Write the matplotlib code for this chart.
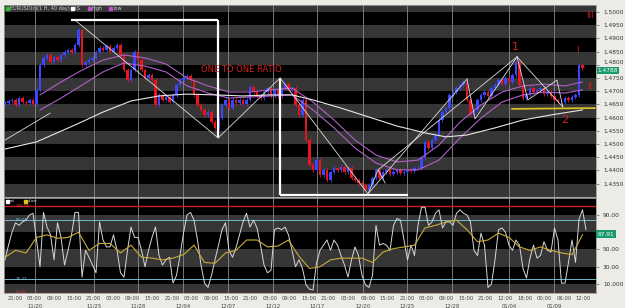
import matplotlib
matplotlib.use('Agg')
import matplotlib.pyplot as plt
import matplotlib.transforms as mtransforms
from matplotlib.patches import Rectangle

# ---------------- data ----------------
closes = [
    1.4655, 1.4663, 1.4667, 1.4648, 1.4674, 1.4659, 1.4655, 1.4667, 1.4651, 1.4705,
    1.4799, 1.4826, 1.4837, 1.4811, 1.4830, 1.4818, 1.4837, 1.4848, 1.4856, 1.4848,
    1.4875, 1.4932, 1.4799, 1.4811, 1.4818, 1.4826, 1.4848, 1.4864, 1.4856, 1.4871,
    1.4848, 1.4864, 1.4875, 1.4837, 1.4780, 1.4742, 1.4780, 1.4848, 1.4818, 1.4780,
    1.4750, 1.4761, 1.4742, 1.4648, 1.4686, 1.4667, 1.4678, 1.4659, 1.4686, 1.4723,
    1.4742, 1.4750, 1.4758, 1.4742, 1.4686, 1.4648, 1.4629, 1.4610, 1.4621, 1.4583,
    1.4561, 1.4598, 1.4648, 1.4667, 1.4636, 1.4667, 1.4655, 1.4667, 1.4651, 1.4667,
    1.4716, 1.4697, 1.4686, 1.4674, 1.4697, 1.4712, 1.4682, 1.4705, 1.4682, 1.4712,
    1.4727, 1.4705, 1.4712, 1.4648, 1.4610, 1.4667, 1.4515, 1.4420, 1.4402, 1.4439,
    1.4383, 1.4402, 1.4364, 1.4394, 1.4409, 1.4402, 1.4413, 1.4394, 1.4409, 1.4371,
    1.4364, 1.4352, 1.4345, 1.4326, 1.4345, 1.4371, 1.4402, 1.4371, 1.4394, 1.4402,
    1.4386, 1.4394, 1.4402, 1.4390, 1.4394, 1.4402, 1.4398, 1.4409, 1.4409, 1.4447,
    1.4508, 1.4485, 1.4515, 1.4534, 1.4591, 1.4621, 1.4636, 1.4686, 1.4697, 1.4712,
    1.4723, 1.4735, 1.4667, 1.4610, 1.4629, 1.4667, 1.4686, 1.4697, 1.4682, 1.4712,
    1.4723, 1.4742, 1.4727, 1.4750, 1.4735, 1.4761, 1.4811, 1.4723, 1.4674, 1.4686,
    1.4712, 1.4697, 1.4705, 1.4712, 1.4689, 1.4697, 1.4682, 1.4667, 1.4659, 1.4659,
    1.4674, 1.4667, 1.4678, 1.4686, 1.4799, 1.4788]
first_open = 1.4651
wick = 0.0007

ma_bars = [10, 16, 22, 28, 34, 40, 46, 52, 58, 64, 70, 76, 82, 88, 94, 100, 106,
           112, 118, 124, 130, 136, 142, 148, 154, 160, 165]
ma_high = [1.4686, 1.4735, 1.4780, 1.4818, 1.4837, 1.4826, 1.4803, 1.4750, 1.4720,
           1.4697, 1.4697, 1.4705, 1.4712, 1.4659, 1.4591, 1.4515, 1.4458, 1.4432,
           1.4439, 1.4496, 1.4583, 1.4648, 1.4697, 1.4720, 1.4727, 1.4720, 1.4735]
ma_low = [1.4629, 1.4674, 1.4723, 1.4773, 1.4807, 1.4795, 1.4773, 1.4720, 1.4693,
          1.4674, 1.4678, 1.4682, 1.4686, 1.4629, 1.4561, 1.4485, 1.4428, 1.4402,
          1.4402, 1.4439, 1.4523, 1.4598, 1.4659, 1.4686, 1.4697, 1.4693, 1.4705]

ls_bars = [0, 9, 20, 28, 36, 44, 52, 60, 68, 76, 82, 88, 96, 104, 112, 120, 126,
           132, 140, 148, 156, 165]
ls_vals = [1.4481, 1.4508, 1.4572, 1.4621, 1.4663, 1.4682, 1.4689, 1.4686, 1.4682,
           1.4686, 1.4686, 1.4667, 1.4636, 1.4602, 1.4568, 1.4542, 1.4527, 1.4534,
           1.4561, 1.4591, 1.4610, 1.4629]

rsi_fast = [
    38, 55, 70, 81, 78, 82, 84, 90, 92, 61, 30, 93, 76, 67, 38, 81, 64, 32, 49, 67,
    93, 93, 18, 49, 41, 32, 23, 82, 61, 53, 53, 67, 49, 23, 18, 49, 76, 64, 64, 49,
    30, 49, 64, 76, 43, 32, 38, 41, 11, 20, 43, 69, 90, 93, 84, 61, 32, 11, 6, 20,
    38, 55, 73, 81, 49, 41, 52, 67, 82, 92, 76, 84, 75, 55, 32, 23, 26, 73, 75, 73,
    76, 67, 49, 30, 38, 28, 9, 4, 3, 34, 49, 55, 61, 49, 61, 55, 43, 32, 18, 38,
    53, 43, 20, 9, 6, 20, 78, 55, 57, 55, 49, 78, 86, 84, 61, 38, 55, 43, 78, 99,
    99, 78, 82, 92, 96, 75, 82, 82, 78, 92, 96, 92, 90, 82, 49, 43, 69, 55, 6, 10,
    38, 73, 75, 70, 55, 49, 61, 55, 28, 17, 40, 55, 40, 43, 59, 49, 47, 75, 61, 11,
    11, 35, 61, 35, 85, 96, 73]
rsi_slow_step = 3
rsi_slow = [41, 49, 46, 64, 67, 63, 64, 70, 49, 57, 57, 46, 55, 41, 40, 38, 40, 44,
            55, 35, 34, 46, 49, 61, 61, 53, 54, 61, 42, 28, 30, 38, 40, 40, 40, 35,
            47, 51, 53, 55, 75, 78, 82, 84, 73, 59, 61, 69, 64, 53, 49, 53, 49, 46,
            44, 67]

price_ticks = [1.5000, 1.4950, 1.4900, 1.4850, 1.4800, 1.4750, 1.4700, 1.4650,
               1.4600, 1.4550, 1.4500, 1.4450, 1.4400, 1.4350]
last_price = 1.4788
rsi_ticks = [90, 50, 30, 10]
rsi_tick_labels = ['90.00', '50.00', '30.00', '10.000']
last_rsi = 67.91
rsi_red = [100, 0]
rsi_teal = [84.04, 16.22]

date_pos = [8.57, 25.43, 38.0, 50.86, 63.71, 76.57, 89.14, 102.29, 114.86,
            127.71, 144.0, 156.86]
date_labels = ['11/20', '11/25', '11/28', '12/04', '12/07', '12/12', '12/17',
               '12/20', '12/25', '12/28', '01/04', '01/09']
time_labels = (['21:00', '03:00', '09:00', '15:00'] * 7)[:25] + \
    ['12:00', '18:00', '00:00', '06:00', '12:00']

# user drawings (bar index, price)
thick_lines = [
    ([18.9, 60.9], [1.4970, 1.4970]),
    ([60.9, 60.9], [1.4970, 1.4523]),
    ([78.6, 78.6], [1.4750, 1.4307]),
    ([78.6, 115.1], [1.4307, 1.4307]),
]
thin_lines = [
    ([20.3, 60.9], [1.4966, 1.4523]),
    ([60.9, 78.6], [1.4523, 1.4750]),
    ([78.6, 103.7], [1.4750, 1.4311]),
    ([103.7, 106.6, 108.6], [1.4311, 1.4402, 1.4352]),
    ([103.7, 132.0], [1.4311, 1.4746]),
    ([106.6, 146.3], [1.4402, 1.4830]),
    ([132.0, 134.3, 146.3], [1.4746, 1.4595, 1.4830]),
    ([146.3, 149.4, 157.7, 159.4], [1.4830, 1.4667, 1.4742, 1.4640]),
    ([146.3, 159.4], [1.4830, 1.4640]),
    ([0.0, 12.9], [1.4515, 1.4617]),
]
support_x = [144.9, 168.5]
support_y = [1.4633, 1.4636]

# ---------------- figure ----------------
W, H = 625, 308
fig = plt.figure(figsize=(W / 100, H / 100), dpi=100)
fig.patch.set_facecolor('#ecebe6')


def rect(l, t, r, b):
    return [l / W, 1 - b / H, (r - l) / W, (b - t) / H]


ax = fig.add_axes(rect(4, 5, 596, 197))
ax2 = fig.add_axes(rect(4, 198, 596, 293))
XL = (-0.29, 168.86)
GREY = '#363636'

for a in (ax, ax2):
    a.set_facecolor('black')
    a.set_xlim(*XL)
    for s in a.spines.values():
        s.set_color('#9a9a9a')
        s.set_linewidth(0.6)
    a.set_xticks([])

ax.set_ylim(1.42992, 1.50265)
ax2.set_ylim(-0.43, 109.7)

# bands
lo = 1.425
while lo < 1.505:
    k = round((1.5 - lo) / 0.005)
    if k % 2 == 0:
        ax.axhspan(lo, lo + 0.005, color=GREY, lw=0, zorder=0)
    lo += 0.005
for lo2 in (70, 30, -10):
    ax2.axhspan(lo2, lo2 + 20, color=GREY, lw=0, zorder=0)

for p in date_pos:
    ax.axvline(p, color='#8c8c8c', lw=0.6, zorder=1)
    ax2.axvline(p, color='#8c8c8c', lw=0.6, zorder=1)

# candles
opens = [first_open] + closes[:-1]
for i, (o, c) in enumerate(zip(opens, closes)):
    col = '#3c46ff' if c >= o else '#e8141e'
    ax.vlines(i, min(o, c) - wick, max(o, c) + wick, color=col, lw=0.6, zorder=3)
    ax.bar(i, max(abs(c - o), 0.00015), bottom=min(o, c), width=0.6, color=col,
           lw=0, zorder=3)

ax.plot(ma_bars, ma_high, color='#b060c8', lw=0.8, zorder=4)
ax.plot(ma_bars, ma_low, color='#b060c8', lw=0.8, zorder=4)
ax.plot(ls_bars, ls_vals, color='#e6e6e6', lw=0.8, zorder=4)

for xs, ys in thick_lines:
    ax.plot(xs, ys, color='white', lw=1.6, zorder=5, solid_capstyle='butt')
for xs, ys in thin_lines:
    ax.plot(xs, ys, color='#dcdcdc', lw=0.6, zorder=5)
ax.plot(support_x, support_y, color='#d8c020', lw=1.3, zorder=5)

red = '#d42020'
ax.text(67.4, 1.4784, 'ONE TO ONE RATIO', color=red, fontsize=6, ha='center',
        va='center', zorder=6)
ax.text(145.7, 1.4867, '1', color=red, fontsize=8, ha='center', va='center', zorder=6)
ax.text(160.0, 1.4591, '2', color=red, fontsize=8, ha='center', va='center', zorder=6)
ax.text(163.4, 1.4856, 'I', color=red, fontsize=6, ha='center', va='center', zorder=6)
ax.text(167.1, 1.4716, 'II', color=red, fontsize=6, ha='center', va='center', zorder=6)
ax.text(167.1, 1.4985, 'III', color=red, fontsize=6, ha='center', va='center', zorder=6)

# legend main
leg_items = [('EURUSD(c)(1 H, 40 day)', '#30c030'), ('LS', 'white'),
             ('high', '#c050d0'), ('low', '#c050d0')]
xp = 6
for lab, col in leg_items:
    fig.patches.append(Rectangle((xp / W, 1 - 10 / H), 3 / W, 3 / H, color=col,
                                 transform=fig.transFigure))
    fig.text((xp + 4) / W, 1 - 8.5 / H, lab, fontsize=3.6, color='#c8c8d8',
             va='center')
    xp += 6 + len(lab) * 2.4 + 6

# legend lower
xp = 6
for lab, col in [('rsi', 'white'), ('slow', '#e0c020')]:
    fig.patches.append(Rectangle((xp / W, 1 - 202.5 / H), 3 / W, 3 / H, color=col,
                                 transform=fig.transFigure))
    fig.text((xp + 4) / W, 1 - 201 / H, lab, fontsize=3.2, color='#c8c8c8',
             va='center')
    xp += 18

# RSI reference lines
for v in rsi_red:
    ax2.axhline(v, color='#c81e1e', lw=1.0, zorder=2)
for v in rsi_teal:
    ax2.axhline(v, color='#70b8d0', lw=0.7, zorder=2)
ax2.text(3, rsi_red[0], '100.00', color='#e04040', fontsize=3.0, va='center', zorder=6)
ax2.text(3, rsi_teal[0], '%.2f' % rsi_teal[0], color='#80c8e0', fontsize=3.0,
         va='center', zorder=6)
ax2.text(3, rsi_teal[1], '%.2f' % rsi_teal[1], color='#80c8e0', fontsize=3.0,
         va='center', zorder=6)
ax2.text(3, rsi_red[1] + 1.2, '-0.00', color='#e04040', fontsize=3.0, va='center',
         zorder=6)

ax2.plot(range(len(rsi_fast)), rsi_fast, color='#d8d8d8', lw=0.7, zorder=3)
ax2.plot([k * rsi_slow_step for k in range(len(rsi_slow))], rsi_slow,
         color='#c8ac3a', lw=0.8, zorder=4)

# right axes
for a, ticks, labels in ((ax, price_ticks, ['%.4f' % p for p in price_ticks]),
                         (ax2, rsi_ticks, rsi_tick_labels)):
    a.yaxis.tick_right()
    a.set_yticks(ticks)
    a.set_yticklabels(labels)
    a.tick_params(axis='y', length=2, width=0.5, color='#666666', labelsize=4.2,
                  labelcolor='#333333', pad=3)

# hide the 1.4800 label that sits under the current-price box
for lbl, p in zip(ax.get_yticklabels(), price_ticks):
    if abs(p - 1.48) < 1e-6:
        lbl.set_va('bottom')

trans1 = mtransforms.blended_transform_factory(ax.transAxes, ax.transData)
ax.text(1.003, last_price, '%.4f' % last_price, transform=trans1, fontsize=4.2,
        color='white', va='top', ha='left', zorder=10,
        bbox=dict(boxstyle='square,pad=0.2', fc='#189a6e', ec='none'))
trans2 = mtransforms.blended_transform_factory(ax2.transAxes, ax2.transData)
ax2.text(1.003, last_rsi, '%.2f' % last_rsi, transform=trans2, fontsize=4.2,
         color='white', va='center', ha='left', zorder=10,
         bbox=dict(boxstyle='square,pad=0.25', fc='#189a6e', ec='none'))

# bottom time / date labels
tpos0, tstep = 2.86, 5.6
for k, lab in enumerate(time_labels):
    x = tpos0 + k * tstep
    if x > XL[1]:
        break
    ax2.text(x, -3.5, lab, fontsize=3.8, color='#444444', ha='center', va='top',
             clip_on=False)
for p, lab in zip(date_pos, date_labels):
    ax2.text(p, -12.5, lab, fontsize=3.8, color='#444444', ha='center', va='top',
             clip_on=False)

fig.savefig('out.png', dpi=100, facecolor=fig.get_facecolor())
